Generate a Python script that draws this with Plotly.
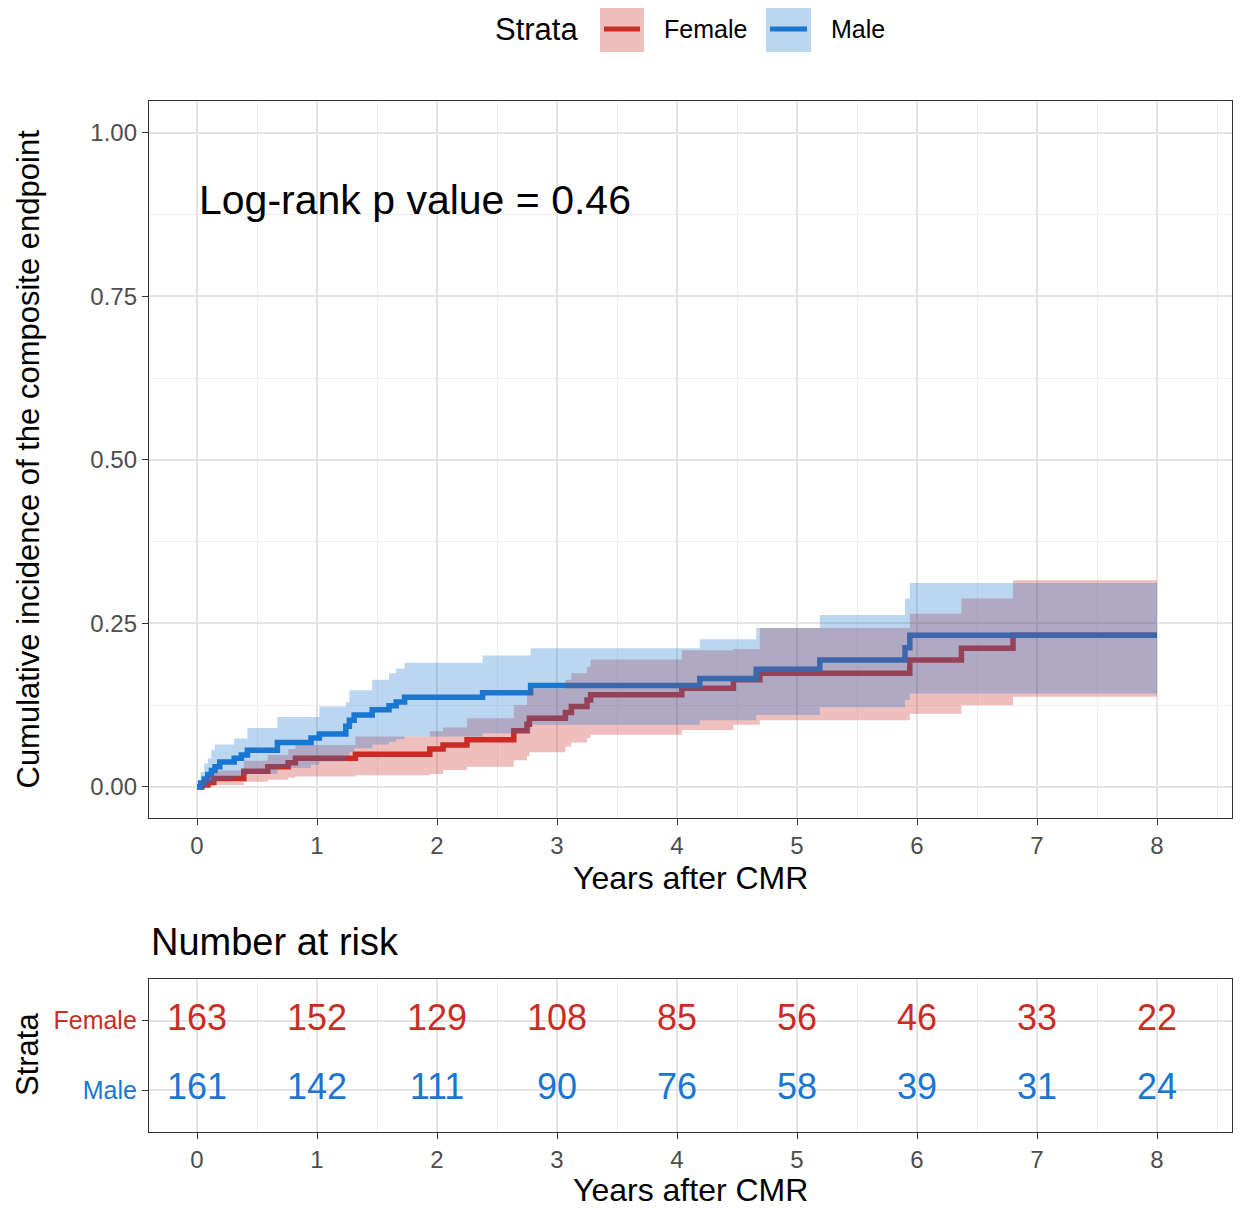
import plotly.graph_objects as go

# ---------------- data ----------------
female_t = [0, 0.04, 0.09, 0.14, 0.39, 0.59, 0.76, 0.82, 1.32, 1.94, 2.05, 2.25, 2.64, 2.75, 2.77,
            3.07, 3.12, 3.25, 3.28, 4.04, 4.47, 4.69, 5.94, 6.37, 6.80, 8.0]
female_est = [0, 0.003, 0.007, 0.013, 0.024, 0.031, 0.037, 0.044, 0.050, 0.058, 0.064, 0.072, 0.086, 0.096, 0.105,
              0.114, 0.123, 0.133, 0.141, 0.151, 0.164, 0.174, 0.194, 0.212, 0.232, 0.232]
female_hi = [0, 0.012, 0.018, 0.025, 0.040, 0.049, 0.058, 0.064, 0.077, 0.085, 0.091, 0.105, 0.125, 0.140, 0.150,
             0.164, 0.174, 0.184, 0.195, 0.209, 0.211, 0.243, 0.265, 0.288, 0.316, 0.316]
female_lo = [0, 0, 0.001, 0.003, 0.008, 0.011, 0.014, 0.016, 0.018, 0.020, 0.026, 0.031, 0.041, 0.047, 0.053,
             0.062, 0.068, 0.075, 0.080, 0.087, 0.095, 0.102, 0.112, 0.125, 0.138, 0.138]

male_t = [0, 0.03, 0.06, 0.09, 0.12, 0.15, 0.19, 0.31, 0.37, 0.42, 0.67, 0.95, 1.02, 1.24, 1.27, 1.31,
          1.46, 1.60, 1.66, 1.73, 2.38, 2.78, 4.19, 4.66, 5.19, 5.90, 5.94, 8.0]
male_est = [0, 0.006, 0.012, 0.019, 0.025, 0.031, 0.038, 0.044, 0.049, 0.056, 0.068, 0.075, 0.081, 0.093, 0.102, 0.110,
            0.118, 0.124, 0.130, 0.137, 0.144, 0.155, 0.166, 0.180, 0.194, 0.213, 0.232, 0.232]
male_hi = [0, 0.023, 0.036, 0.044, 0.057, 0.065, 0.065, 0.074, 0.074, 0.090, 0.107, 0.107, 0.123, 0.130, 0.148, 0.148,
           0.164, 0.174, 0.181, 0.190, 0.201, 0.212, 0.226, 0.243, 0.263, 0.288, 0.312, 0.312]
male_lo = [0, 0, 0.001, 0.004, 0.006, 0.009, 0.011, 0.014, 0.017, 0.020, 0.029, 0.034, 0.039, 0.047, 0.054, 0.059,
           0.065, 0.069, 0.073, 0.077, 0.082, 0.095, 0.102, 0.110, 0.122, 0.133, 0.143, 0.143]

risk_times = [0, 1, 2, 3, 4, 5, 6, 7, 8]
risk_female = [163, 152, 129, 108, 85, 56, 46, 33, 22]
risk_male = [161, 142, 111, 90, 76, 58, 39, 31, 24]

strata = ["Female", "Male"]
RED = "#CB2C24"
BLUE = "#1976D2"
RED_FILL = "rgba(203,44,36,0.3)"
BLUE_FILL = "rgba(25,118,210,0.3)"

FONT = "Liberation Sans, Arial, sans-serif"

fig = go.Figure()

# lines first (ribbons drawn on top, as in reference)
for t, e, c in [(female_t, female_est, RED), (male_t, male_est, BLUE)]:
    fig.add_trace(go.Scatter(x=t, y=e, mode="lines", line=dict(color=c, width=5.5, shape="hv"),
                             showlegend=False, hoverinfo="skip", xaxis="x", yaxis="y"))

for t, lo, hi, f in [(female_t, female_lo, female_hi, RED_FILL), (male_t, male_lo, male_hi, BLUE_FILL)]:
    fig.add_trace(go.Scatter(x=t, y=lo, mode="lines", line=dict(width=0, shape="hv"),
                             showlegend=False, hoverinfo="skip", xaxis="x", yaxis="y"))
    fig.add_trace(go.Scatter(x=t, y=hi, mode="lines", line=dict(width=0, shape="hv"),
                             fill="tonexty", fillcolor=f,
                             showlegend=False, hoverinfo="skip", xaxis="x", yaxis="y"))

# risk table
fig.add_trace(go.Scatter(x=risk_times, y=[2] * len(risk_times), mode="text",
                         text=[str(v) for v in risk_female],
                         textfont=dict(family=FONT, size=36, color=RED),
                         showlegend=False, hoverinfo="skip", xaxis="x2", yaxis="y2"))
fig.add_trace(go.Scatter(x=risk_times, y=[1] * len(risk_times), mode="text",
                         text=[str(v) for v in risk_male],
                         textfont=dict(family=FONT, size=36, color=BLUE),
                         showlegend=False, hoverinfo="skip", xaxis="x2", yaxis="y2"))

GRID = "#E3E3E3"
MINOR = "#EFEFEF"
AX = "#333333"
TICKC = "#4D4D4D"

common_x = dict(range=[-0.4, 8.625], tickmode="array", tickvals=list(range(9)),
                showgrid=True, gridcolor=GRID, gridwidth=2,
                minor=dict(dtick=0.5, tick0=0, showgrid=True, gridcolor=MINOR, gridwidth=1),
                showline=True, mirror=True, linecolor=AX, linewidth=1.3,
                ticks="outside", ticklen=6, tickcolor=AX, tickwidth=1.3,
                tickfont=dict(family=FONT, size=24, color=TICKC), zeroline=False)

# page body has an 8px margin: the figure is sized/margined so the panels land at the reference pixels
fig.update_layout(
    width=1233, height=1202,
    margin=dict(l=141, r=9, t=93, b=78),
    paper_bgcolor="white", plot_bgcolor="white",
    showlegend=False,
    xaxis=dict(domain=[0, 1], anchor="y", **common_x),
    yaxis=dict(domain=[0.3046, 1], anchor="x", range=[-0.0474, 1.0489],
               tickmode="array", tickvals=[0, 0.25, 0.5, 0.75, 1.0],
               ticktext=["0.00", "0.25", "0.50", "0.75", "1.00"],
               showgrid=True, gridcolor=GRID, gridwidth=2,
               minor=dict(dtick=0.125, tick0=0, showgrid=True, gridcolor=MINOR, gridwidth=1),
               showline=True, mirror=True, linecolor=AX, linewidth=1.3,
               ticks="outside", ticklen=6, tickcolor=AX, tickwidth=1.3,
               tickfont=dict(family=FONT, size=24, color=TICKC), zeroline=False),
    xaxis2=dict(domain=[0, 1], anchor="y2", **common_x),
    yaxis2=dict(domain=[0, 0.1484], anchor="x2", range=[0.4, 2.6],
                tickmode="array", tickvals=[2, 1],
                ticktext=[f"<span style='color:{RED}'>{strata[0]}</span>",
                          f"<span style='color:{BLUE}'>{strata[1]}</span>"],
                showgrid=True, gridcolor=GRID, gridwidth=2,
                showline=True, mirror=True, linecolor=AX, linewidth=1.3,
                ticks="outside", ticklen=6, tickcolor=AX, tickwidth=1.3,
                tickfont=dict(family=FONT, size=25), zeroline=False),
)

ann = []
ann.append(dict(x=0, y=0.8976, xref="x", yref="y", text="Log-rank p value = 0.46", showarrow=False,
                xanchor="left", yanchor="middle", font=dict(family=FONT, size=41, color="black")))
ann.append(dict(x=0.5, y=0.2464, xref="paper", yref="paper", text="Years after CMR", showarrow=False,
                xanchor="center", yanchor="middle", font=dict(family=FONT, size=32, color="black")))
ann.append(dict(x=0.5, y=-0.0563, xref="paper", yref="paper", text="Years after CMR", showarrow=False,
                xanchor="center", yanchor="middle", font=dict(family=FONT, size=32, color="black")))
ann.append(dict(x=-0.1117, y=0.6523, xref="paper", yref="paper",
                text="Cumulative incidence of the composite endpoint", showarrow=False, textangle=-90,
                xanchor="center", yanchor="middle", borderpad=0,
                font=dict(family=FONT, size=31, color="black")))
ann.append(dict(x=-0.1117, y=0.0747, xref="paper", yref="paper", text="Strata", showarrow=False,
                textangle=-90, xanchor="center", yanchor="middle", borderpad=0,
                font=dict(family=FONT, size=31, color="black")))
ann.append(dict(x=0, y=0.1843, xref="paper", yref="paper", text="Number at risk", showarrow=False,
                xanchor="left", yanchor="middle", font=dict(family=FONT, size=38, color="black")))

# manual legend (top); helpers convert reference-picture pixels to paper coords
def px_x(p):
    return (p - 149) / 1083

def px_y(p):
    return (1132 - p) / 1031

ann.append(dict(x=px_x(580), y=px_y(29), xref="paper", yref="paper", text="Strata", showarrow=False,
                xanchor="right", yanchor="middle", font=dict(family=FONT, size=31, color="black")))
shapes = []
for (x0, x1, fillc, linec, label, lx) in [(600, 644, RED_FILL, RED, strata[0], 662),
                                         (766, 811, BLUE_FILL, BLUE, strata[1], 829)]:
    shapes.append(dict(type="rect", xref="paper", yref="paper", x0=px_x(x0), x1=px_x(x1),
                       y0=px_y(52), y1=px_y(5), fillcolor=fillc, line=dict(width=0), layer="above"))
    shapes.append(dict(type="line", xref="paper", yref="paper", x0=px_x(x0 + 4), x1=px_x(x1 - 4),
                       y0=px_y(29), y1=px_y(29), line=dict(color=linec, width=5), layer="above"))
    ann.append(dict(x=px_x(lx), y=px_y(29), xref="paper", yref="paper", text=label, showarrow=False,
                    xanchor="left", yanchor="middle", font=dict(family=FONT, size=25, color="black")))

fig.update_layout(annotations=ann, shapes=shapes)

fig.write_html("out.html")
